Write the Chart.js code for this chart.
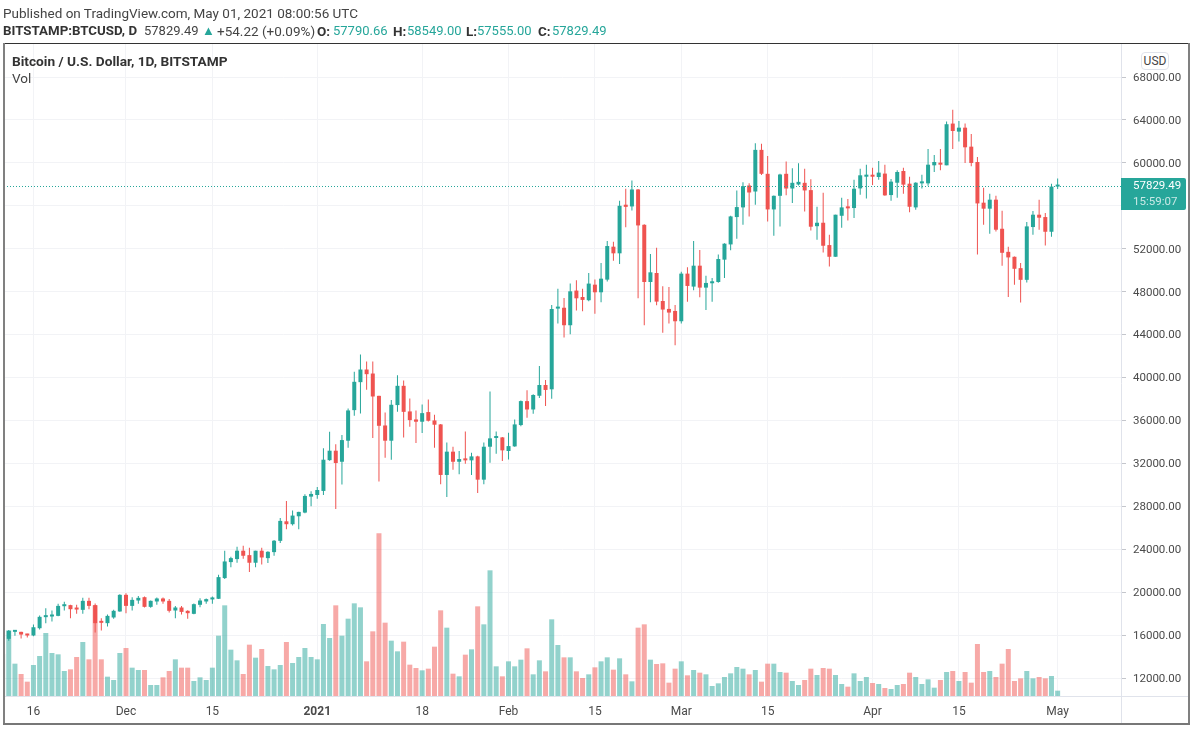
<!DOCTYPE html>
<html><head><meta charset="utf-8">
<script src="https://cdn.jsdelivr.net/npm/chart.js@4"></script>
<style>
html,body{margin:0;padding:0;background:#fff;width:1200px;height:731px;overflow:hidden}
#wrap{position:relative;width:1200px;height:731px}
canvas{position:absolute;left:0;top:0}
.t{position:absolute;white-space:nowrap;font-family:Roboto,sans-serif;font-size:13.5px;line-height:16px;color:#444}
.b{font-weight:700;color:#333}
.g{color:#26a69a;font-size:13px}
.f{position:absolute;background:#808080}
#usd{position:absolute;left:1141px;top:52px;width:26px;height:16px;border:1px solid #e0e3eb;border-radius:4px;background:#fff;
 font:12px/16px Roboto,sans-serif;color:#444;text-align:center}
</style></head><body>
<div id="wrap">
<canvas id="c" width="1200" height="731"></canvas>
<div class="t" style="left:3px;top:5px">Published on TradingView.com, May 01, 2021 08:00:56 UTC</div>
<div class="t b" style="left:3px;top:23px;font-size:13.3px">BITSTAMP:BTCUSD, D</div>
<div class="t" style="left:144px;top:23px;font-size:13px">57829.49</div>
<div class="t g" style="left:202px;top:23px">&#9650;</div>
<div class="t" style="left:217px;top:23px">+54.22 (+0.09%)</div>
<div class="t b" style="left:317px;top:23px">O:</div><div class="t g" style="left:333px;top:23px">57790.66</div>
<div class="t b" style="left:393px;top:23px">H:</div><div class="t g" style="left:407px;top:23px">58549.00</div>
<div class="t b" style="left:466px;top:23px">L:</div><div class="t g" style="left:477px;top:23px">57555.00</div>
<div class="t b" style="left:538px;top:23px">C:</div><div class="t g" style="left:552px;top:23px">57829.49</div>
<div class="t b" style="left:12px;top:53px;font-size:13.7px">Bitcoin / U.S. Dollar, 1D, BITSTAMP</div>
<div class="t" style="left:12px;top:70px">Vol</div>
<div id="usd">USD</div>
<div class="f" style="left:3px;top:43px;width:1186px;height:1px;background:#333"></div>
<div class="f" style="left:3px;top:43px;width:1.5px;height:682px"></div>
<div class="f" style="left:1188px;top:43px;width:2px;height:682px"></div>
<div class="f" style="left:3px;top:723px;width:1187px;height:2px;background:#777"></div>
</div>
<script>
const monthNames = ['Nov','Dec','Jan','Feb','Mar','Apr','May'];
const monthLengths = [[11,30],[1,31],[1,31],[1,28],[1,31],[1,30],[1,1]];
const categories = [];
monthNames.forEach((m,k)=>{for(let d=monthLengths[k][0];d<=monthLengths[k][1];d++)categories.push(m+' '+d);});

const opens = [
15300,15650,16300,16300,16080,15960,16640,17670,17730,17790,18690,18790,18510,18350,19190,18790,17200,17110,17640,18200,
19750,18720,19220,19530,18630,19130,19410,19190,18290,18570,18260,17980,18820,19130,19320,19380,21310,22800,23080,23860,23450,22740,23860,23170,23730,24780,26600,26330,27070,27414,28900,
29050,29430,32300,33180,32150,34110,36960,39566,40744,40370,38290,35530,34110,37430,39225,36840,36090,35880,36780,36000,35630,30920,33090,32150,32400,32280,32650,30480,33550,34360,34420,
33150,33580,35570,37800,37020,38300,39300,38900,46420,46500,44870,48100,47500,47200,48650,47940,49120,52190,51570,56100,55940,57520,54230,48900,49740,47130,46390,46200,
45240,49680,48470,50420,48375,48780,48900,50980,52400,54950,55850,57890,57330,61210,58980,55660,56930,58980,57610,57980,58140,57460,54100,54420,52340,51250,55070,55880,55790,57620,58710,
58840,58680,59000,57000,58150,59240,58060,55850,58090,58090,59770,60020,59770,63660,62910,63280,61510,60080,56290,55730,56570,53860,51710,51250,50190,49100,54020,55170,54950,53580,
57790.66];
const highs = [
15800,16480,16480,16300,16120,16980,17830,18500,18290,18910,19100,18820,18820,19470,19470,18940,17570,17920,18350,19810,
19900,19530,19630,19590,19220,19500,19500,19350,18720,18720,18320,18940,19440,19410,19590,21620,23860,23300,24230,24320,24140,23860,24140,23820,24850,26900,28500,27600,27480,29120,29400,
29800,33400,34950,33770,34640,37120,40530,42140,41490,41490,38290,36745,37900,40200,39720,38050,36930,37490,37950,36530,35660,33950,33550,33150,34980,33000,32700,33950,38700,34980,34450,
34850,36090,37860,38820,38450,41070,39770,46750,48280,47410,48750,49060,48280,49740,49120,50670,52720,52650,56470,57580,58360,57560,54280,51500,52090,48500,48440,46760,
49860,50270,52720,51880,49490,49270,51470,52500,55080,57430,58200,58110,61830,61770,60650,56950,58980,60120,59500,59970,59460,58480,55910,57220,53300,55170,56750,56630,58430,59460,59830,
59550,60170,59830,58500,59300,59550,58710,58200,58900,61290,60730,61290,63850,64960,63900,63660,62700,60550,57690,57130,56940,55540,52180,51280,50660,54480,55510,56570,55320,58060,
58549];
const lows = [
15200,15460,15930,15680,15770,15880,16520,17100,17260,17760,18290,17570,17980,17980,18410,16240,16420,16800,17510,18170,
18040,18290,18910,18570,18540,18820,18910,18100,17570,17920,17510,17950,18600,18910,18910,19350,21220,22330,22740,23110,21870,22330,22580,22710,23390,24590,25860,26200,25860,27350,28000,
28700,29050,32240,27755,30020,33460,36435,36650,38850,34360,30300,32530,32340,36800,34420,35400,33890,34820,35910,33460,30050,28870,31410,30980,31970,30920,29240,30050,32060,32900,32220,
32370,33540,35450,36250,36620,38090,37350,38030,45030,43730,44035,46240,46170,47100,45930,47010,48950,50890,50580,53990,55570,47380,44870,47010,46730,44160,45030,43000,
45030,47070,48130,47480,46300,47070,48840,49270,51850,52930,54230,55010,56090,58880,54540,53210,54080,56990,56250,57900,55470,53700,52840,51650,50350,51250,53950,54640,54860,57030,56690,
57940,58430,56930,56470,56750,57130,55390,55630,57620,57870,59150,59300,59770,61290,61980,59990,59680,51470,54240,53400,53610,50410,47490,48640,46990,48850,53300,53770,52310,53110,
57555];
const closes = [
15710,16390,16360,16050,15960,16730,17700,17790,17890,18720,18790,18410,18380,19190,18720,17110,17140,17790,18260,19750,
18720,19280,19470,18630,19190,19410,19130,18260,18570,18160,18040,18880,19220,19350,19500,21400,22860,23170,23860,23390,22740,23860,23230,23760,24790,26640,26330,27135,27476,28964,29150,
29520,32340,33180,32030,34170,36930,39600,40744,40310,38230,35500,34110,37460,39225,36800,36030,35880,36680,35970,35600,30920,33090,32150,32400,32280,32650,30480,33550,34330,34420,33210,
33610,35630,37800,37020,38370,39300,38840,46384,46480,44870,48030,47380,47230,48750,47940,49210,52250,51570,56000,55900,57520,54170,48900,49800,47070,46330,46050,45240,
49680,48530,50420,48375,48810,48960,51040,52470,55010,55880,57830,57240,61210,58980,55660,56930,58915,57610,58140,58230,57430,54050,54420,52275,51250,55170,55850,55760,57590,58840,58900,
58710,59090,56970,58250,59150,57970,55910,58150,58150,59830,60080,59830,63600,62970,63280,61450,59990,56220,55730,56570,53770,51620,51190,50130,49100,54080,55170,54890,53580,57790.66,
57829.49];
const volumes = [
12.6,19.7,9.7,6.6,4.3,9.3,12.0,18.9,12.9,12.5,7.5,8.0,11.7,16.2,11.0,27.2,11.0,5.8,4.8,12.9,
14.4,8.5,7.8,7.8,3.3,3.3,5.6,7.5,11.0,8.5,8.5,4.5,5.6,4.8,8.5,18.1,27.2,13.9,10.7,6.6,15.4,11.5,14.1,9.0,8.0,9.3,16.2,9.9,11.7,14.4,11.7,
11.0,21.6,17.4,27.2,18.1,23.2,27.8,26.6,10.4,19.4,48.8,22.0,16.6,13.4,16.3,9.4,8.4,7.7,8.2,14.8,25.7,20.5,6.7,5.9,12.4,14.0,26.9,21.5,37.7,8.9,5.9,
10.4,8.9,10.9,14.3,6.5,10.7,7.4,23.0,15.3,11.6,11.6,7.4,5.4,6.5,8.6,10.4,11.6,7.9,11.3,6.5,4.4,20.5,21.5,10.9,9.6,9.8,4.0,8.2,
10.4,6.2,7.8,7.0,6.5,3.0,3.8,5.7,6.8,8.7,8.2,6.5,7.8,4.3,9.7,9.7,7.2,7.0,4.5,3.3,4.8,8.2,6.3,8.4,8.2,6.3,3.6,2.8,6.8,4.5,5.7,
3.9,3.6,2.4,2.1,3.3,3.6,7.0,5.7,3.6,5.0,2.5,4.8,7.2,7.5,4.5,7.2,4.0,15.6,7.2,7.5,5.7,9.7,14.1,4.5,5.3,7.5,5.3,5.7,5.3,6.0,
1.6];
const priceTicks = [68000,64000,60000,56000,52000,48000,44000,40000,36000,32000,28000,24000,20000,16000,12000];
const dateTicks = ['Nov 16','Dec 1','Dec 15','Jan 1','Jan 18','Feb 1','Feb 15','Mar 1','Mar 15','Apr 1','Apr 15','May 1'];
const dateTickLabels = ['16','Dec','15','2021','18','Feb','15','Mar','15','Apr','15','May'];
const lastPrice = 57829.49;
const countdown = '15:59:07';

const UP='#26a69a', DOWN='#ef5350', UPV='rgba(38,166,154,0.5)', DOWNV='rgba(239,83,80,0.5)';
const isUp = i => closes[i]>=opens[i];
const idx = categories.map((_,i)=>i);
const tickIdx = dateTicks.map(d=>categories.indexOf(d));

const overlay = {
  id:'overlay',
  afterDraw(chart){
    const {ctx,chartArea:a,scales:{y}}=chart;
    ctx.save();
    ctx.strokeStyle='#e0e3eb';ctx.lineWidth=1;
    ctx.beginPath();ctx.moveTo(a.right+0.5,44);ctx.lineTo(a.right+0.5,723);
    ctx.moveTo(a.left,a.bottom+0.5);ctx.lineTo(1188,a.bottom+0.5);ctx.stroke();
    const py=Math.round(y.getPixelForValue(lastPrice))+0.5;
    ctx.strokeStyle=UP;ctx.setLineDash([1,2]);
    ctx.beginPath();ctx.moveTo(a.left,py);ctx.lineTo(a.right,py);ctx.stroke();
    ctx.setLineDash([]);
    ctx.fillStyle=UP;
    ctx.beginPath();ctx.roundRect(a.right,py-8.5,65,32,[0,2,2,0]);ctx.fill();
    ctx.font='11.5px Roboto, sans-serif';ctx.textBaseline='middle';ctx.textAlign='left';
    ctx.fillStyle='#ffffff';ctx.fillText(lastPrice.toFixed(2),1133,py);
    ctx.fillStyle='rgba(255,255,255,0.75)';ctx.fillText(countdown,1133,py+16);
    ctx.restore();
  }
};

new Chart(document.getElementById('c'),{
  type:'bar',
  plugins:[overlay],
  data:{datasets:[
    {label:'Vol',yAxisID:'v',order:3,barThickness:5,
     data:idx.map(i=>({x:i,y:volumes[i]})),
     backgroundColor:idx.map(i=>isUp(i)?UPV:DOWNV)},
    {label:'Wick',yAxisID:'y',order:2,barThickness:1,
     data:idx.map(i=>({x:i,y:[lows[i],highs[i]]})),
     backgroundColor:idx.map(i=>isUp(i)?UP:DOWN)},
    {label:'Body',yAxisID:'y',order:1,barThickness:4,minBarLength:2,
     data:idx.map(i=>({x:i,y:[opens[i],closes[i]]})),
     backgroundColor:idx.map(i=>isUp(i)?UP:DOWN)}
  ]},
  options:{
    responsive:false,animation:false,devicePixelRatio:1,
    layout:{padding:{left:4,top:44,right:11,bottom:7}},
    plugins:{legend:{display:false},tooltip:{enabled:false}},
    datasets:{bar:{grouped:false,borderWidth:0,inflateAmount:0}},
    scales:{
      x:{type:'linear',offset:false,min:0.227,max:181.27,
        afterBuildTicks(s){s.ticks=tickIdx.map(v=>({value:v}));},
        afterFit(s){s.height=28;},
        grid:{color:'#f2f3f6',drawTicks:false,offset:false},
        border:{display:false},
        ticks:{autoSkip:false,maxRotation:0,padding:9,color:'#4a4a4a',
          font:c=>({family:'Roboto, sans-serif',size:12,weight:c.index===3?'700':'400'}),
          callback:(v,i)=>dateTickLabels[i]}
      },
      y:{position:'right',min:10323,max:71075,
        afterBuildTicks(s){s.ticks=priceTicks.map(v=>({value:v}));},
        afterFit(s){s.width=68;},
        grid:{color:'#f2f3f6',tickColor:'#c4c6cc',tickLength:5},
        border:{display:false},
        ticks:{padding:7,labelOffset:1,color:'#4a4a4a',font:{family:'Roboto, sans-serif',size:11.5},
          callback:v=>Number(v).toFixed(2)}
      },
      v:{display:false,position:'left',min:0,max:195.6,grid:{display:false}}
    }
  }
});
</script>
</body></html>
